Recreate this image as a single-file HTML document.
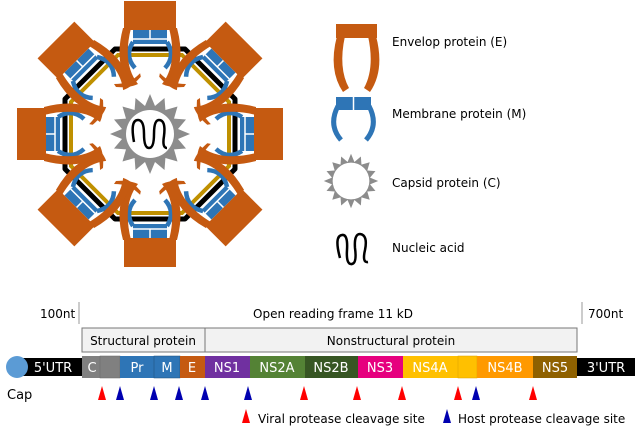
<!DOCTYPE html>
<html><head><meta charset="utf-8"><style>
body{margin:0;background:#fff;width:641px;height:433px;overflow:hidden}
svg{display:block}
text{font-family:"DejaVu Sans","Liberation Sans",sans-serif}
</style></head><body>
<svg width="641" height="433" viewBox="0 0 641 433" xmlns="http://www.w3.org/2000/svg">
<defs>
<g id="unit">
  <!-- membrane -->
  <path d="M-17,-104 L17,-104 L17,-90 L-17,-90 Z" fill="#2e75b6"/>
  <line x1="0" y1="-104" x2="0" y2="-95" stroke="#fff" stroke-width="1.5"/>
  <line x1="-17" y1="-95" x2="17" y2="-95" stroke="#fff" stroke-width="1.5"/>
  <path d="M-17,-92 Q-26,-78 -15,-66" stroke="#2e75b6" stroke-width="4.5" fill="none"/>
  <path d="M17,-92 Q26,-78 15,-66" stroke="#2e75b6" stroke-width="4.5" fill="none"/>
  <!-- envelope -->
  <rect x="-26" y="-133" width="52" height="29" fill="#c55a11"/>
  <path d="M-27,-106 Q-36,-72 -22,-52 Q-28,-50 -36,-50 L-34,-47 Q-20,-46 -12,-50 Q-28,-70 -19,-106 Z" fill="#c55a11"/>
  <path d="M27,-106 Q36,-72 22,-52 Q28,-50 36,-50 L34,-47 Q20,-46 12,-50 Q28,-70 19,-106 Z" fill="#c55a11"/>
</g>
</defs>
<g transform="translate(150,134)">
  <polygon points="-35,-85 35,-85 85,-35 85,35 35,85 -35,85 -85,35 -85,-35" fill="none" stroke="#000" stroke-width="5" stroke-linejoin="round"/>
  <polygon points="-32,-79 32,-79 79,-32 79,32 32,79 -32,79 -79,32 -79,-32" fill="none" stroke="#bf9000" stroke-width="4"/>
  <use href="#unit"/>
  <use href="#unit" transform="rotate(45)"/>
  <use href="#unit" transform="rotate(90)"/>
  <use href="#unit" transform="rotate(135)"/>
  <use href="#unit" transform="rotate(180)"/>
  <use href="#unit" transform="rotate(225)"/>
  <use href="#unit" transform="rotate(270)"/>
  <use href="#unit" transform="rotate(315)"/>
  <polygon id="cap" fill="#8c8c8c" points="0,-40 5,-28 14.5,-36 15.4,-24 27.5,-27.5 24,-15.4 36,-14.5 28,-5 40,0 28,5 36,14.5 24,15.4 27.5,27.5 15.4,24 14.5,36 5,28 0,40 -5,28 -14.5,36 -15.4,24 -27.5,27.5 -24,15.4 -36,14.5 -28,5 -40,0 -28,-5 -36,-14.5 -24,-15.4 -27.5,-27.5 -15.4,-24 -14.5,-36 -5,-28"/>
  <circle r="24" fill="#fff"/>
  <path d="M-16,8 Q-20,-14 -12,-14 Q-6,-14 -6,0 Q-6,14 -1,14 Q4,14 4,0 Q4,-14 9,-14 Q16,-14 14,2 Q12,14 17,14" fill="none" stroke="#000" stroke-width="2.5"/>
</g>
<!-- legend icons -->
<rect x="336" y="24" width="41" height="14" fill="#c55a11"/>
<path d="M337,36 Q328,70 343,92 L349,88 Q338,68 345,36 Z" fill="#c55a11"/>
<path d="M376,36 Q385,70 370,92 L364,88 Q375,68 368,36 Z" fill="#c55a11"/>
<path d="M336,97 L371,97 L371,110 L336,110 Z" fill="#2e75b6"/>
<line x1="353.5" y1="97" x2="353.5" y2="110" stroke="#fff" stroke-width="1.5"/>
<path d="M338,106 Q328,125 341,140" stroke="#2e75b6" stroke-width="5" fill="none"/>
<path d="M369,106 Q379,125 366,140" stroke="#2e75b6" stroke-width="5" fill="none"/>
<g transform="translate(351,181) scale(0.68)"><use href="#cap"/><circle r="27" fill="#fff"/></g>
<path d="M340,258 Q334,236 342,235 Q348,234 347,250 Q346,265 352,264 Q357,263 355,248 Q354,234 360,234 Q368,235 365,250 Q362,263 368,262" fill="none" stroke="#000" stroke-width="2.5"/>
<g font-size="12" fill="#000">
<text x="392" y="46">Envelop protein (E)</text>
<text x="392" y="118">Membrane protein (M)</text>
<text x="392" y="187">Capsid protein (C)</text>
<text x="392" y="252">Nucleic acid</text>
</g>
<g font-size="12">
<text x="40" y="318" fill="#000">100nt</text>
<line x1="79" y1="302" x2="79" y2="324" stroke="#999"/>
<text x="333" y="318" text-anchor="middle">Open reading frame 11 kD</text>
<line x1="582" y1="302" x2="582" y2="324" stroke="#999"/>
<text x="588" y="318">700nt</text>
<rect x="82" y="328" width="123" height="24" fill="#f2f2f2" stroke="#777"/>
<rect x="205" y="328" width="372" height="24" fill="#f2f2f2" stroke="#777"/>
<text x="143" y="345" text-anchor="middle">Structural protein</text>
<text x="391" y="345" text-anchor="middle">Nonstructural protein</text>
<rect x="18" y="358" width="617" height="18" fill="#000"/>
<rect x="82" y="356" width="18" height="22" fill="#808080"/>
<rect x="100" y="356" width="20" height="22" fill="#808080" stroke="#666" stroke-width="0.5"/>
<rect x="120" y="356" width="34" height="22" fill="#2e75b6"/>
<rect x="154" y="356" width="26" height="22" fill="#2e75b6" stroke="#1f4e79" stroke-width="0.5"/>
<rect x="180" y="356" width="25" height="22" fill="#c55a11"/>
<rect x="205" y="356" width="45" height="22" fill="#7030a0"/>
<rect x="250" y="356" width="55" height="22" fill="#548235"/>
<rect x="305" y="356" width="53" height="22" fill="#375623"/>
<rect x="358" y="356" width="45" height="22" fill="#e6007e"/>
<rect x="403" y="356" width="55" height="22" fill="#ffc000"/>
<rect x="458" y="356" width="19" height="22" fill="#ffc000" stroke="#d9a000" stroke-width="0.5"/>
<rect x="477" y="356" width="56" height="22" fill="#ff9900"/>
<rect x="533" y="356" width="44" height="22" fill="#8f6100"/>
<circle cx="17" cy="367" r="11" fill="#5b9bd5"/>
<g fill="#fff" text-anchor="middle" font-size="13">
<text x="53" y="372">5'UTR</text><text x="92" y="372">C</text><text x="137" y="372">Pr</text>
<text x="167" y="372">M</text><text x="192" y="372">E</text><text x="227" y="372">NS1</text>
<text x="277" y="372">NS2A</text><text x="331" y="372">NS2B</text><text x="380" y="372">NS3</text>
<text x="430" y="372">NS4A</text><text x="505" y="372">NS4B</text><text x="555" y="372">NS5</text>
<text x="606" y="372">3'UTR</text>
</g>
<text x="7" y="399" font-size="13">Cap</text>
<g fill="#ff0000">
<polygon points="102,386 98,400 106,400"/><polygon points="304,386 300,400 308,400"/>
<polygon points="357,386 353,400 361,400"/><polygon points="402,386 398,400 406,400"/>
<polygon points="458,386 454,400 462,400"/><polygon points="533,386 529,400 537,400"/>
<polygon points="246,409 242,423 250,423"/>
</g>
<g fill="#0000b0">
<polygon points="120,386 116,400 124,400"/><polygon points="154,386 150,400 158,400"/>
<polygon points="179,386 175,400 183,400"/><polygon points="205,386 201,400 209,400"/>
<polygon points="248,386 244,400 252,400"/><polygon points="476,386 472,400 480,400"/>
<polygon points="447,409 443,423 451,423"/>
</g>
<text x="258" y="423">Viral protease cleavage site</text>
<text x="458" y="423">Host protease cleavage site</text>
</g>
</svg>
</body></html>
